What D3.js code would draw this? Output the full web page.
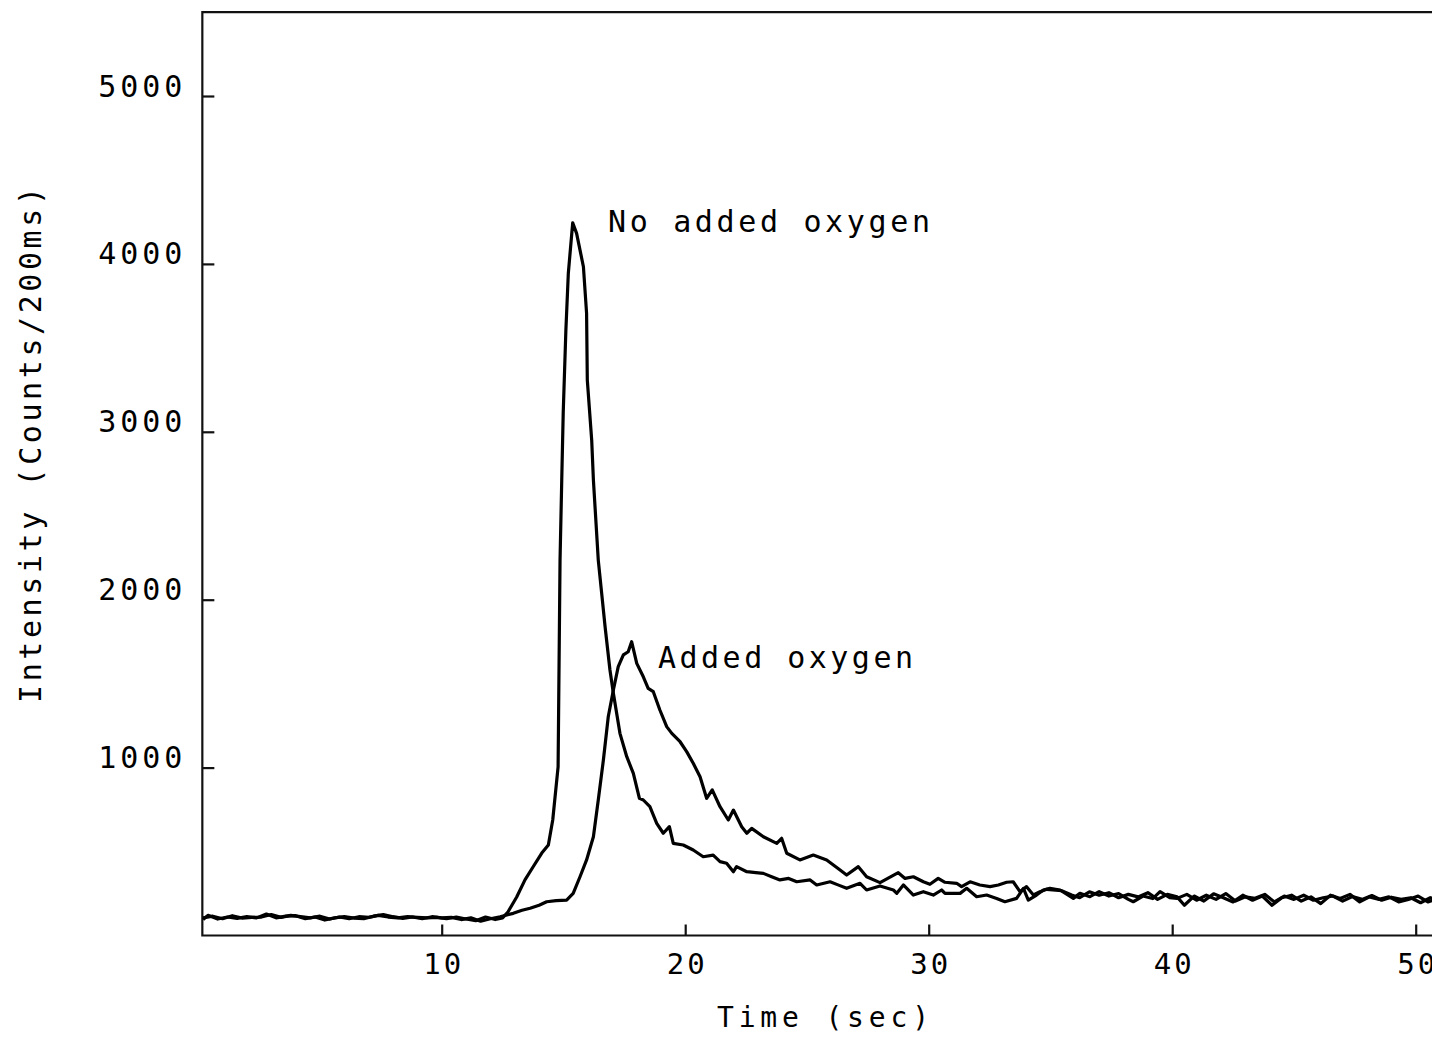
<!DOCTYPE html>
<html>
<head>
<meta charset="utf-8">
<script src="https://cdn.jsdelivr.net/npm/d3@7/dist/d3.min.js"></script>
<style>
  html, body { margin: 0; padding: 0; background: #fff; overflow: hidden; }
  svg { display: block; }
  text { font-family: "DejaVu Sans Mono", "Liberation Mono", monospace; fill: #000; font-weight: normal; }
</style>
</head>
<body>
<svg id="chart" width="1432" height="1037"></svg>
<script>
// ---- data ----
const seriesNames = ["No added oxygen", "Added oxygen"];

const timeNoO2 = [0.2,0.6,1.0,1.4,1.8,2.2,2.6,3.0,3.4,3.8,4.2,4.6,5.0,5.4,5.8,6.2,6.6,7.0,7.4,7.8,8.2,8.6,9.0,9.4,9.8,10.2,10.6,11.0,11.4,11.8,12.2,12.5,
  12.72,13.08,13.42,13.75,14.11,14.38,14.56,14.78,14.86,14.93,14.99,15.1,15.2,15.38,15.54,15.82,15.95,15.98,16.16,16.23,16.43,16.57,16.71,16.91,17.05,17.32,17.6,17.87,18.12,18.28,18.55,18.83,19.1,19.35,19.51,19.92,20.33,20.74,21.15,21.43,21.7,21.98,22.11,22.53,22.9,23.21,23.55,23.89,24.25,24.58,25.13,25.4,25.95,26.3,26.63,27.18,27.45,28.0,
  28.55,28.69,28.96,29.37,29.78,30.19,30.53,30.67,31.29,31.56,31.97,32.38,32.79,33.13,33.61,33.89,34.09,34.43,34.71,34.98,35.39,35.94,36.21,36.62,
  37.0,37.4,37.8,38.2,38.4,38.8,39.2,39.5,39.9,40.2,40.6,41.0,41.4,41.8,42.2,42.6,43.0,43.4,43.8,44.2,44.6,45.0,45.4,45.8,46.2,46.6,47.0,47.4,47.8,48.2,48.6,49.0,49.4,49.8,50.2,50.6,51.0];
const countsNoO2 = [105,115,100,118,104,108,110,125,108,120,112,105,115,98,110,100,112,108,120,110,105,112,108,105,108,100,110,98,88,110,95,105,
  140,229,331,408,491,539,688,1004,2237,2713,3110,3606,3944,4245,4182,3983,3706,3308,2951,2713,2236,2038,1839,1581,1443,1204,1065,966,817,807,767,668,609,648,549,539,509,469,479,440,430,380,410,380,375,370,350,331,340,320,331,301,320,300,281,311,271,295,
  271,251,301,241,261,241,271,251,251,281,231,241,221,201,221,281,211,241,271,281,271,221,251,231,
  261,235,250,215,201,235,220,261,225,221,245,210,240,215,250,205,230,222,245,200,235,215,240,210,225,235,205,232,215,238,210,228,215,225,195,225,205];

const timeO2 = [0.2,0.4,0.8,1.2,1.6,2.0,2.4,2.8,3.2,3.6,4.0,4.4,4.8,5.2,5.6,6.0,6.4,6.8,7.2,7.6,8.0,8.4,8.8,9.2,9.6,10.0,10.4,10.8,11.2,11.6,12.0,12.4,
  12.94,13.3,13.63,14.0,14.31,14.7,15.13,15.4,15.68,15.95,16.23,16.43,16.64,16.84,17.05,17.25,17.46,17.66,17.8,18.01,18.28,18.48,18.69,18.96,19.24,19.45,19.79,20.06,20.33,20.61,20.88,21.11,21.43,21.77,21.98,22.32,22.53,22.73,23.21,23.76,23.96,24.17,24.71,25.26,25.81,26.36,26.63,27.11,27.45,28.0,
  28.75,29.03,29.37,29.78,30.05,30.39,30.67,31.15,31.35,31.7,32.1,32.52,32.86,33.2,33.47,33.75,34.02,34.3,34.57,34.85,35.46,35.87,
  36.2,36.6,37.0,37.4,37.8,38.2,38.6,39.0,39.4,39.8,40.2,40.5,40.9,41.3,41.7,42.1,42.5,42.9,43.3,43.7,44.1,44.5,44.9,45.3,45.7,46.1,46.5,46.9,47.3,47.7,48.1,48.5,48.9,49.3,49.7,50.1,50.5,50.9];
const countsO2 = [95,120,98,110,102,112,105,128,105,115,118,100,110,92,105,112,104,100,115,125,112,102,110,100,112,105,108,95,105,85,100,112,
  132,150,162,180,201,208,211,251,350,450,588,807,1045,1303,1462,1601,1671,1690,1750,1621,1541,1472,1452,1343,1244,1204,1154,1095,1026,946,817,867,767,688,747,648,609,638,588,549,579,490,450,479,450,390,360,410,350,315,
  374,340,350,320,305,340,317,311,291,320,301,291,301,317,320,261,291,241,261,275,267,241,
  225,260,240,255,225,245,230,255,215,245,230,180,235,205,248,225,200,240,210,235,180,225,240,205,230,190,240,220,245,200,230,215,230,200,215,235,200,220];

const xTickValues = [10, 20, 30, 40, 50];
const yTickValues = [1000, 2000, 3000, 4000, 5000];
const xAxisTitle = "Time (sec)";
const yAxisTitle = "Intensity (Counts/200ms)";

// ---- drawing ----
const svg = d3.select("#chart");
const x = d3.scaleLinear().domain([0, 52]).range([198.2, 198.2 + 52 * 24.35]);
const y = d3.scaleLinear().domain([0, 5500]).range([935.5, 935.5 - 5500 * 0.1679]);
const xStart = 0.17;

// frame
const x0 = x(xStart), x1 = x(52), yTop = y(5500), yBot = y(0);
svg.append("path")
  .attr("d", `M${x1},${yTop}H${x0}V${yBot}H${x1}`)
  .attr("fill", "none").attr("stroke", "#111").attr("stroke-width", 2.2);

// axes
const fmt = d3.format("d");
const yAxis = d3.axisLeft(y).tickValues(yTickValues).tickFormat(fmt)
  .tickSizeInner(-12).tickSizeOuter(0).tickPadding(20);
const gy = svg.append("g").attr("transform", `translate(${x0},0)`).call(yAxis);
gy.select(".domain").remove();
gy.selectAll("line").attr("stroke", "#111").attr("stroke-width", 2.2);
gy.selectAll("text").attr("dy", 0).attr("font-size", 30).attr("font-family", "DejaVu Sans Mono")
  .attr("textLength", 84).attr("lengthAdjust", "spacing");

const xAxis = d3.axisBottom(x).tickValues(xTickValues).tickFormat(fmt)
  .tickSizeInner(-11).tickSizeOuter(0).tickPadding(38);
const gx = svg.append("g").attr("transform", `translate(0,${yBot})`).call(xAxis);
gx.select(".domain").remove();
gx.selectAll("line").attr("stroke", "#111").attr("stroke-width", 2.2);
gx.selectAll("text").attr("dy", 0).attr("font-size", 29).attr("font-family", "DejaVu Sans Mono")
  .attr("textLength", 38).attr("lengthAdjust", "spacing");

// series
const line = d3.line().x(d => x(d[0])).y(d => y(d[1]));
const dataNoO2 = timeNoO2.map((t, i) => [t, countsNoO2[i]]);
const dataO2 = timeO2.map((t, i) => [t, countsO2[i]]);
[dataO2, dataNoO2].forEach(d => {
  svg.append("path").datum(d).attr("d", line)
    .attr("fill", "none").attr("stroke", "#000").attr("stroke-width", 3.2)
    .attr("stroke-linejoin", "round");
});

// series labels
svg.append("text").attr("x", 608).attr("y", 232).attr("font-size", 30)
  .attr("textLength", 322).attr("lengthAdjust", "spacing").text(seriesNames[0]);
svg.append("text").attr("x", 658).attr("y", 668).attr("font-size", 30)
  .attr("textLength", 255).attr("lengthAdjust", "spacing").text(seriesNames[1]);

// axis titles
svg.append("text").attr("x", 717).attr("y", 1027).attr("font-size", 28)
  .attr("textLength", 212).attr("lengthAdjust", "spacing").text(xAxisTitle);
svg.append("text").attr("transform", "translate(41,703) rotate(-90)").attr("font-size", 30)
  .attr("textLength", 516).attr("lengthAdjust", "spacing").text(yAxisTitle);
</script>
</body>
</html>
